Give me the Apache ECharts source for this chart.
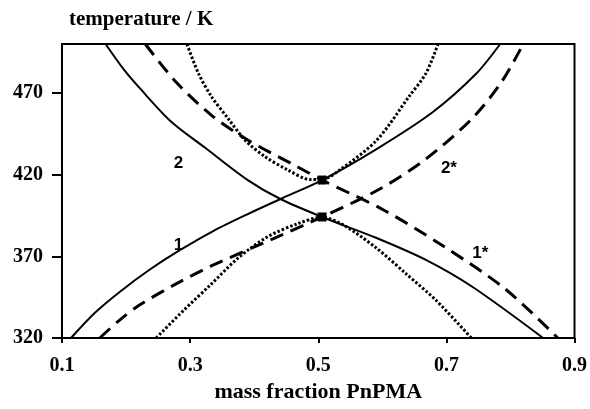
<!DOCTYPE html>
<html>
<head>
<meta charset="utf-8">
<script src="https://cdn.jsdelivr.net/npm/echarts@6/dist/echarts.min.js"></script>
<style>
  html, body { margin: 0; padding: 0; background: #fff; }
  #chart { width: 590px; height: 409px; }
</style>
</head>
<body>
<div id="chart"></div>
<script>
// tick values
var xTicks = [0.1, 0.3, 0.5, 0.7, 0.9];
var yTicks = [320, 370, 420, 470];

// curve 1 (solid, rising)
var c1X = [0.114, 0.151, 0.190, 0.236, 0.282, 0.336, 0.390, 0.441, 0.506, 0.591, 0.679, 0.746, 0.784];
var c1T = [320, 335.3, 348.2, 361.6, 373.3, 385.5, 395.9, 405.1, 416.7, 435.7, 458.4, 481.6, 500];

// curve 2 (solid, falling)
var c2X = [0.168, 0.197, 0.221, 0.271, 0.324, 0.390, 0.441, 0.506, 0.591, 0.668, 0.741, 0.851];
var c2T = [500, 484.1, 473.1, 452.2, 436.3, 416.7, 405.1, 394.1, 381.2, 367.8, 351.2, 320];

// curve 1* (dashed, falling)
var c1sX = [0.230, 0.278, 0.333, 0.390, 0.468, 0.506, 0.602, 0.695, 0.792, 0.874];
var c1sT = [500, 476.7, 456.5, 441.2, 424.7, 416.7, 398.4, 376.3, 350, 320];

// curve 2* (dashed, rising)
var c2sX = [0.159, 0.190, 0.221, 0.278, 0.333, 0.432, 0.506, 0.596, 0.668, 0.741, 0.787, 0.820];
var c2sT = [320, 331, 340.2, 353.1, 364.1, 381.2, 394.1, 411.2, 429.6, 454.7, 477.3, 500];

// dotted upper
var dUX = [0.295, 0.313, 0.333, 0.360, 0.386, 0.417, 0.452, 0.488, 0.506, 0.534, 0.591, 0.642, 0.668, 0.687];
var dUT = [500, 482, 468, 454, 441, 431, 423, 417, 417, 423, 441, 468, 482, 500];

// dotted lower
var dLX = [0.247, 0.290, 0.333, 0.375, 0.421, 0.468, 0.506, 0.540, 0.591, 0.638, 0.684, 0.739];
var dLT = [320, 337, 353, 369, 382, 390, 394, 389, 375, 359, 343, 320];

// filled squares
var sqX = [0.506, 0.506];
var sqT = [416.7, 394.1];

// curve labels
var labText = ['2', '1', '2*', '1*'];
var labX = [0.282, 0.282, 0.704, 0.753];
var labT = [427, 377, 424, 372];

function pairs(xs, ys) {
  return xs.map(function (x, i) { return [x, ys[i]]; });
}

var chart = echarts.init(document.getElementById('chart'));

function curve(xs, ys, type, width) {
  return {
    type: 'line',
    data: pairs(xs, ys),
    showSymbol: false,
    smooth: 0.3,
    silent: true,
    lineStyle: { color: '#000', width: width, type: type }
  };
}

var axisFont = { color: '#000', fontFamily: 'Liberation Serif', fontWeight: 'bold', fontSize: 20 };

chart.setOption({
  animation: false,
  backgroundColor: '#fff',
  grid: {
    left: 62, right: 9, top: 44, bottom: 71,
    show: true, borderColor: '#000', borderWidth: 2
  },
  xAxis: {
    type: 'value',
    min: 0.1, max: 0.9,
    name: 'mass fraction PnPMA',
    nameLocation: 'middle',
    nameGap: 43,
    nameTextStyle: Object.assign({}, axisFont, { verticalAlign: 'middle', fontSize: 22 }),
    axisLine: { lineStyle: { color: '#000', width: 2 } },
    axisTick: { customValues: xTicks, length: 5, lineStyle: { color: '#000', width: 2 } },
    axisLabel: Object.assign({
      customValues: xTicks, margin: 18,
      formatter: function (v) { return v.toFixed(1); }
    }, axisFont),
    splitLine: { show: false }
  },
  yAxis: {
    type: 'value',
    min: 320, max: 500,
    name: 'temperature / K',
    nameLocation: 'end',
    nameGap: 24,
    nameTextStyle: Object.assign({}, axisFont, { align: 'left', verticalAlign: 'middle', fontSize: 21, padding: [0, 0, 0, 7] }),
    axisLine: { lineStyle: { color: '#000', width: 2 } },
    axisTick: { customValues: yTicks, length: 10, lineStyle: { color: '#000', width: 2 } },
    axisLabel: Object.assign({ customValues: yTicks, margin: 19 }, axisFont),
    splitLine: { show: false }
  },
  series: [
    curve(c1X, c1T, 'solid', 2),
    curve(c2X, c2T, 'solid', 2),
    curve(c1sX, c1sT, [14, 8], 3),
    curve(c2sX, c2sT, [14, 8], 3),
    curve(dUX, dUT, [2.5, 2], 3),
    curve(dLX, dLT, [2.5, 2], 3),
    {
      type: 'scatter',
      data: pairs(sqX, sqT),
      symbol: 'rect',
      symbolSize: 9,
      silent: true,
      itemStyle: { color: '#000', opacity: 1 }
    },
    {
      type: 'scatter',
      data: labText.map(function (t, i) { return { name: t, value: [labX[i], labT[i]] }; }),
      symbolSize: 0,
      silent: true,
      itemStyle: { color: '#000', opacity: 1 },
      label: {
        show: true,
        position: [0, 0],
        align: 'center',
        verticalAlign: 'middle',
        formatter: '{b}',
        color: '#000',
        fontFamily: 'Liberation Sans',
        fontWeight: 'bold',
        fontSize: 17
      }
    }
  ]
});
</script>
</body>
</html>
